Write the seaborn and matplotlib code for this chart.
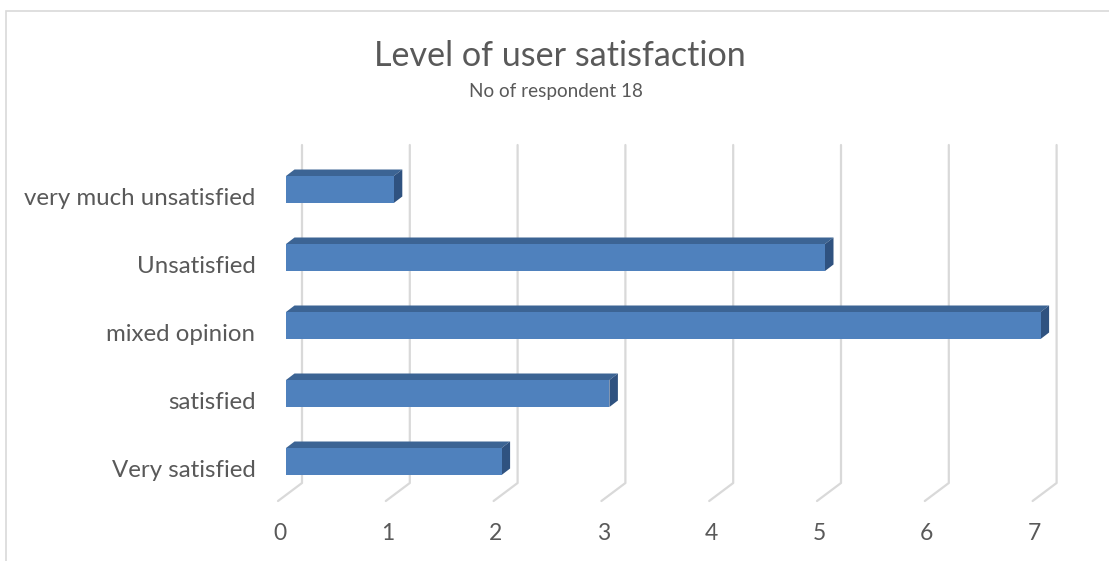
import matplotlib
matplotlib.use("Agg")
import matplotlib.pyplot as plt
from matplotlib.patches import Polygon, Rectangle
from matplotlib.lines import Line2D
from matplotlib.transforms import IdentityTransform, ScaledTranslation
import seaborn as sns
import pandas as pd

categories = ["very much unsatisfied", "Unsatisfied", "mixed opinion", "satisfied", "Very satisfied"]
counts = [1, 5, 7, 3, 2]
x_ticks = [0, 1, 2, 3, 4, 5, 6, 7]
title = "Level of user satisfaction"
subtitle = "No of respondent 18"

FRONT = "#4F81BD"
TOP = "#3C6494"
SIDE = "#2F5280"
GRID = "#D9D9D9"
TEXT = "#595959"

sns.set_style("white")
plt.rcParams["font.family"] = ["Lato", "DejaVu Sans"]

W, H, DPI = 1109, 561, 100
fig = plt.figure(figsize=(W / DPI, H / DPI), dpi=DPI)

# plot area in pixels (from the top-left corner)
left_px, right_px = 286, 286 + 7 * 107.8
top_px, bottom_px = 145, 501
ax = fig.add_axes([left_px / W, (H - bottom_px) / H,
                   (right_px - left_px) / W, (bottom_px - top_px) / H])

df = pd.DataFrame({"category": categories, "count": counts})
sns.barplot(data=df, x="count", y="category", order=categories, orient="h",
            color=FRONT, width=27 / 68, saturation=1, ax=ax, zorder=3,
            edgecolor="none")

ax.set_xlim(0, 7)
ax.set_ylim((501 - 189.5) / 68, -(189.5 - 145) / 68)
for s in ax.spines.values():
    s.set_visible(False)
ax.set_xlabel("")
ax.set_ylabel("")
ax.set_xticks(x_ticks)
ax.set_xticklabels([str(t) for t in x_ticks])
ax.tick_params(axis="x", length=0, pad=16, labelsize=16.5, labelcolor=TEXT)
ax.tick_params(axis="y", length=0, pad=22, labelsize=17.3, labelcolor=TEXT)
xshift = ScaledTranslation(-6 / DPI, 0, fig.dpi_scale_trans)
for lab in ax.get_xticklabels():
    lab.set_transform(lab.get_transform() + xshift)
yshift = ScaledTranslation(0, -7 / DPI, fig.dpi_scale_trans)
for lab in ax.get_yticklabels():
    lab.set_transform(lab.get_transform() + yshift)

fig.canvas.draw()
to_disp = ax.transData
ident = IdentityTransform()

# back-wall gridlines with floor diagonals
for k in x_ticks:
    xd = to_disp.transform((k, 0))[0]
    xs = [xd + 16, xd + 16, xd - 8]
    ys = [H - top_px, H - 483, H - 501]
    ax.add_line(Line2D(xs, ys, transform=ident, color=GRID, lw=1.6,
                       zorder=0, clip_on=False))

# depth faces for each bar
dx, dy = 8.5, 6.5
for p in ax.patches:
    x0, y0 = p.get_x(), p.get_y()
    w, h = p.get_width(), p.get_height()
    (ax0, ay0) = to_disp.transform((x0, y0 + h))   # bottom-left (display)
    (ax1, ay1) = to_disp.transform((x0 + w, y0))   # top-right (display)
    top = Polygon([(ax0, ay1), (ax1, ay1), (ax1 + dx, ay1 + dy), (ax0 + dx, ay1 + dy)],
                  closed=True, transform=ident, facecolor=TOP, edgecolor="none",
                  zorder=2, clip_on=False)
    side = Polygon([(ax1, ay0), (ax1, ay1), (ax1 + dx, ay1 + dy), (ax1 + dx, ay0 + dy)],
                   closed=True, transform=ident, facecolor=SIDE, edgecolor="none",
                   zorder=2, clip_on=False)
    ax.add_patch(top)
    ax.add_patch(side)

# chart frame
fig.patches.append(Rectangle((6, -20), W + 20, H - 11 + 20, transform=ident,
                             fill=False, edgecolor=GRID, lw=1.2))

fig.text(560 / W, 1 - 56 / H, title, ha="center", va="center",
         fontsize=24.6, color=TEXT, fontweight="normal")
fig.text(556 / W, 1 - 91 / H, subtitle, ha="center", va="center",
         fontsize=13.6, color=TEXT)

fig.savefig("out.png", dpi=DPI)
